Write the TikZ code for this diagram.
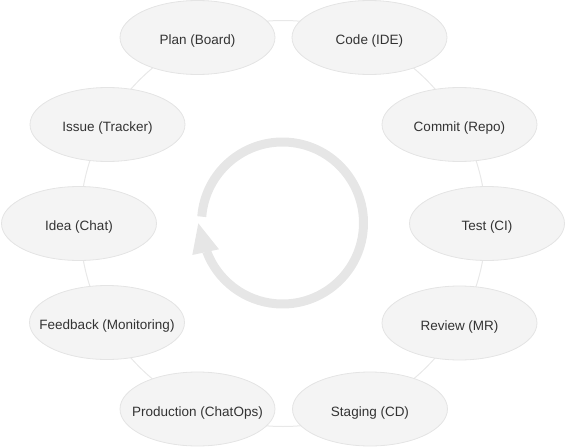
\documentclass[tikz,border=0pt]{standalone}
\usepackage{fontspec}
\setmainfont{Liberation Sans}
\usetikzlibrary{shapes.geometric}
\definecolor{nodefill}{HTML}{F4F4F4}
\definecolor{nodeedge}{HTML}{E4E4E4}
\definecolor{ringcol}{HTML}{E8E8E8}
\definecolor{arrowcol}{HTML}{E6E6E6}
\definecolor{textcol}{HTML}{333333}
\newcommand{\stagetext}[1]{\makebox[0pt][c]{#1}}
\begin{document}
\begin{tikzpicture}[x=1pt,y=-1pt,
  stage/.style={ellipse, draw=nodeedge, line width=0.8pt, fill=nodefill,
    minimum width=155pt, minimum height=74pt, inner sep=0pt, text=textcol,
    text height=14pt, text depth=0pt,
    font=\fontsize{13.5}{16}\selectfont}]
\useasboundingbox (0,0) rectangle (565,447);
\coordinate (ctr) at (283,223.5);
\draw[ringcol, line width=1pt] (ctr) circle[radius=203];
\node[stage] (idea)  at (79,223.5)   {\stagetext{Idea (Chat)}};
\node[stage] (issue) at (107.5,124.5) {\stagetext{Issue (Tracker)}};
\node[stage] (plan)  at (197.5,37.5)   {\stagetext{Plan (Board)}};
\node[stage] (code)  at (369.5,37.5)   {\stagetext{Code (IDE)}};
\node[stage] (commit) at (459.5,124.5) {\stagetext{Commit (Repo)}};
\node[stage] (test)  at (487,223.5)  {\stagetext{Test (CI)}};
\node[stage] (review) at (459.5,323) {\stagetext{Review (MR)}};
\node[stage] (staging) at (370,409) {\stagetext{Staging (CD)}};
\node[stage] (prod)  at (197.5,409)  {\stagetext{Production (ChatOps)}};
\node[stage] (feedback) at (107,322.5) {\stagetext{Feedback (Monitoring)}};
\begin{scope}[shift={(282.5,223)}]
\draw[arrowcol, line width=9pt] (184.5:81) arc[start angle=184.5, end angle=519.5, radius=81];
\end{scope}
\fill[arrowcol] (198.3,223.3) -- (192.3,255) -- (219,249.3) -- cycle;
\end{tikzpicture}
\end{document}
